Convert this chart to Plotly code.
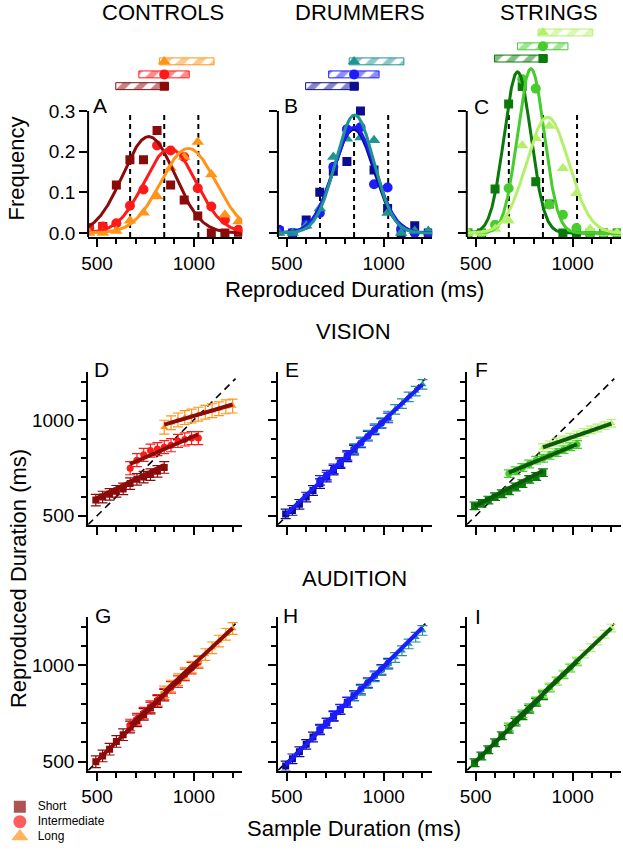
import numpy as np
import plotly.graph_objects as go

W, H = 623, 853
FONT = "Liberation Sans, Arial, Helvetica, sans-serif"

# ---------------- data ----------------
group_titles = ["CONTROLS", "DRUMMERS", "STRINGS"]
range_labels = ["Short", "Intermediate", "Long"]
panel_letters = ["A", "B", "C", "D", "E", "F", "G", "H", "I"]
row_titles = ["VISION", "AUDITION"]

colors_controls = ["#8b0a0a", "#ff1a1a", "#ff9418"]
colors_drummers = ["#0d0d8f", "#1c1cff", "#1f9490"]
colors_strings = ["#0a7a0a", "#46cc2c", "#b4f06c"]
fitline_colors = ["#8b0a0a", "#1c1cff", "#0a5c0a"]
symbols = ["square", "circle", "triangle-up"]

# reproduced-duration histograms (frequency per bin)
hist_bins = [460, 530, 600, 670, 740, 810, 880, 950, 1020, 1090, 1160, 1230]
freq_controls_short = [0.012, 0.016, 0.118, 0.180, 0.180, 0.252, 0.118, 0.081, 0.042, 0.000, 0.000, 0.002]
freq_controls_inter = [0.012, 0.016, 0.024, 0.067, 0.107, 0.215, 0.203, 0.187, 0.110, 0.065, 0.032, 0.008]
freq_controls_long = [0.000, 0.000, 0.005, 0.030, 0.050, 0.090, 0.160, 0.187, 0.224, 0.144, 0.045, 0.028]
freq_drummers_short = [0.005, 0.000, 0.032, 0.100, 0.152, 0.176, 0.300, 0.155, 0.060, 0.000, 0.018, 0.000]
freq_drummers_inter = [0.008, 0.000, 0.020, 0.049, 0.163, 0.255, 0.260, 0.120, 0.112, 0.010, 0.000, 0.000]
freq_drummers_long = [0.000, 0.000, 0.018, 0.060, 0.187, 0.232, 0.235, 0.228, 0.049, 0.000, 0.005, 0.005]
freq_strings_short = [0.000, 0.000, 0.108, 0.317, 0.360, 0.126, 0.071, 0.000, 0.000, 0.000, 0.000, 0.000]
freq_strings_inter = [0.000, 0.000, 0.020, 0.110, 0.378, 0.355, 0.070, 0.045, 0.012, 0.000, 0.000, 0.000]
freq_strings_long = [0.000, 0.000, 0.010, 0.030, 0.215, 0.233, 0.263, 0.159, 0.098, 0.010, 0.000, 0.000]

# Gaussian fit parameters (mean ms, sd ms, peak frequency) for short / intermediate / long
fit_mu_controls = [767, 877, 971]
fit_sd_controls = [134, 134, 141]
fit_amp_controls = [0.237, 0.207, 0.208]
fit_mu_drummers = [845, 848, 850]
fit_sd_drummers = [105, 107, 99]
fit_amp_drummers = [0.255, 0.260, 0.290]
fit_mu_strings = [716, 785, 871]
fit_sd_strings = [69, 69, 109]
fit_amp_strings = [0.396, 0.404, 0.285]

range_means = [671, 847, 1023]
bar_lo = [597, 716, 822]
bar_hi = [869, 976, 1104]
bar_marker_x = 847
bar_y_controls = [0.361, 0.390, 0.422]
bar_y_drummers = [0.361, 0.390, 0.422]
bar_y_strings = [0.429, 0.459, 0.493]

# sample durations (ms)
sample_short = [494, 529, 565, 600, 635, 671, 706, 741, 776, 812, 847]
sample_inter = [671, 706, 741, 776, 812, 847, 882, 918, 953, 988, 1023]
sample_long = [847, 882, 918, 953, 988, 1023, 1059, 1094, 1129, 1165, 1200]
fit_x_short = [494, 847]
fit_x_inter = [671, 1023]
fit_x_long = [847, 1200]
identity_span = [454, 1215]

# VISION reproduced durations
vis_controls_short = [582, 598, 612, 628, 640, 668, 690, 702, 715, 732, 752]
vis_controls_inter = [748, 790, 818, 840, 848, 858, 868, 890, 898, 905, 905]
vis_controls_long = [962, 985, 1000, 1012, 1020, 1030, 1040, 1048, 1058, 1068, 1072]
vis_drummers_short = [510, 528, 560, 598, 632, 668, 702, 738, 772, 808, 842]
vis_drummers_inter = [685, 712, 745, 778, 815, 848, 880, 915, 948, 982, 1010]
vis_drummers_long = [850, 885, 920, 955, 985, 1020, 1055, 1085, 1120, 1150, 1185]
vis_strings_short = [552, 565, 582, 600, 615, 630, 650, 668, 690, 705, 725]
vis_strings_inter = [720, 735, 752, 770, 790, 800, 815, 830, 845, 860, 872]
vis_strings_long = [855, 870, 885, 895, 910, 922, 935, 948, 958, 970, 982]
vis_fit_controls = [[590, 765], [770, 925], [975, 1080]]
vis_fit_drummers = [[505, 845], [680, 1012], [852, 1185]]
vis_fit_strings = [[550, 735], [725, 873], [857, 980]]
vis_err_controls = [30, 34, 36]
vis_err_drummers = [25, 25, 25]
vis_err_strings = [20, 20, 20]

# AUDITION reproduced durations
aud_controls_short = [500, 530, 565, 605, 640, 680, 712, 745, 778, 812, 845]
aud_controls_inter = [690, 720, 752, 785, 818, 850, 885, 915, 950, 985, 1015]
aud_controls_long = [862, 892, 925, 958, 990, 1020, 1055, 1090, 1125, 1160, 1190]
aud_drummers_short = [478, 515, 552, 590, 628, 665, 700, 735, 770, 808, 842]
aud_drummers_inter = [668, 700, 738, 772, 808, 842, 876, 910, 945, 978, 1010]
aud_drummers_long = [840, 870, 905, 940, 972, 1005, 1040, 1075, 1110, 1145, 1180]
aud_strings_short = [495, 530, 562, 598, 635, 668, 705, 738, 772, 808, 842]
aud_strings_inter = [680, 712, 748, 780, 815, 848, 882, 918, 950, 985, 1018]
aud_strings_long = [855, 888, 920, 955, 990, 1022, 1058, 1090, 1125, 1160, 1192]
aud_fit_controls = [[498, 845], [690, 1010], [862, 1192]]
aud_fit_drummers = [[482, 842], [670, 1012], [842, 1195]]
aud_fit_strings = [[495, 842], [682, 1018], [855, 1192]]
aud_err_controls = [30, 30, 30]
aud_err_drummers = [25, 25, 25]
aud_err_strings = [20, 20, 20]

freq_tick_vals = [0.0, 0.1, 0.2, 0.3]
freq_tick_text = ["0.0", "0.1", "0.2", "0.3"]
ms_major = [500, 1000]
ms_minor = [600, 700, 800, 900, 1100, 1200]

# ---------------- layout geometry (pixels) ----------------
col_px = [(82, 238), (274, 430), (465, 621)]
row_px = [(20, 239), (375, 529), (622, 777)]
XR = [454, 1250]
ROW1_YR = [-0.01, -0.01 + (239 - 20) / 410.0]


def fx(p):
    return p / W


def fy(p):
    return 1 - p / H


def axnames(n):
    return ("x" if n == 1 else f"x{n}"), ("y" if n == 1 else f"y{n}")


def laykeys(n):
    return ("xaxis" if n == 1 else f"xaxis{n}"), ("yaxis" if n == 1 else f"yaxis{n}")


fig = go.Figure()
shapes = []
annotations = []
layout_axes = {}

tickfont = dict(family=FONT, size=19, color="black")
minor_cfg = dict(tickvals=ms_minor, ticklen=5, tickwidth=2, tickcolor="black", ticks="outside")

group_colors = [colors_controls, colors_drummers, colors_strings]

for r in range(3):
    for c in range(3):
        n = r * 3 + c + 1
        xk, yk = laykeys(n)
        xa = dict(domain=[fx(col_px[c][0]), fx(col_px[c][1])], range=XR, showline=True,
                  linecolor="black", linewidth=2, ticks="outside", tickvals=ms_major,
                  ticklen=8, tickwidth=2, tickcolor="black", minor=minor_cfg,
                  showgrid=False, zeroline=False, showticklabels=(r != 1),
                  tickfont=tickfont, anchor=axnames(n)[1], fixedrange=True)
        if r == 0:
            ya = dict(domain=[fy(row_px[r][1]), fy(row_px[r][0])], range=ROW1_YR,
                      showline=False, ticks="outside", tickvals=freq_tick_vals,
                      ticktext=freq_tick_text, ticklen=8, tickwidth=2, tickcolor="black",
                      showgrid=False, zeroline=False, showticklabels=(c == 0),
                      tickfont=tickfont, anchor=axnames(n)[0], fixedrange=True)
            shapes.append(dict(type="line", xref=f"{axnames(n)[0]} domain", yref=axnames(n)[1],
                               x0=0, x1=0, y0=ROW1_YR[0], y1=freq_tick_vals[-1],
                               line=dict(color="black", width=2), layer="above"))
        else:
            ya = dict(domain=[fy(row_px[r][1]), fy(row_px[r][0])], range=XR, showline=True,
                      linecolor="black", linewidth=2, ticks="outside", tickvals=ms_major,
                      ticklen=8, tickwidth=2, tickcolor="black", minor=minor_cfg,
                      showgrid=False, zeroline=False, showticklabels=(c == 0),
                      tickfont=tickfont, anchor=axnames(n)[0], fixedrange=True)
        layout_axes[xk] = xa
        layout_axes[yk] = ya

# ---------------- row 1: distributions ----------------
freqs = [[freq_controls_short, freq_controls_inter, freq_controls_long],
         [freq_drummers_short, freq_drummers_inter, freq_drummers_long],
         [freq_strings_short, freq_strings_inter, freq_strings_long]]
fits = [(fit_mu_controls, fit_sd_controls, fit_amp_controls),
        (fit_mu_drummers, fit_sd_drummers, fit_amp_drummers),
        (fit_mu_strings, fit_sd_strings, fit_amp_strings)]
bar_ys = [bar_y_controls, bar_y_drummers, bar_y_strings]
xgrid = np.linspace(XR[0], XR[1], 400)

for c in range(3):
    xa, ya = axnames(c + 1)
    cols = group_colors[c]
    # hatched range bars
    for k in range(3):
        fig.add_trace(go.Bar(
            orientation="h", y=[bar_ys[c][k]], x=[bar_hi[k] - bar_lo[k]], base=[bar_lo[k]],
            width=0.017, xaxis=xa, yaxis=ya, showlegend=False, hoverinfo="skip",
            marker=dict(color="white", line=dict(color=cols[k], width=1),
                        pattern=dict(shape="/", fgcolor=cols[k], bgcolor="white",
                                     size=12, solidity=0.5))))
        fig.add_trace(go.Scatter(
            x=[bar_marker_x], y=[bar_ys[c][k]], mode="markers", xaxis=xa, yaxis=ya,
            showlegend=False, hoverinfo="skip",
            marker=dict(symbol=symbols[k], color=cols[k], size=[9, 10, 11][k], line=dict(width=0))))
    # dashed range means
    for m in range_means:
        fig.add_trace(go.Scatter(
            x=[m, m], y=[ROW1_YR[0], freq_tick_vals[-1]], mode="lines", xaxis=xa, yaxis=ya,
            showlegend=False, hoverinfo="skip",
            line=dict(color="black", width=2, dash="5px,4px")))
    # points
    for k in range(3):
        fig.add_trace(go.Scatter(
            x=hist_bins, y=freqs[c][k], mode="markers", xaxis=xa, yaxis=ya, showlegend=False,
            marker=dict(symbol=symbols[k], color=cols[k], size=[9, 10, 11][k], line=dict(width=0))))
    # fitted curves
    mus, sds, amps = fits[c]
    for k in range(3):
        yfit = amps[k] * np.exp(-(xgrid - mus[k]) ** 2 / (2 * sds[k] ** 2))
        fig.add_trace(go.Scatter(
            x=xgrid, y=yfit, mode="lines", xaxis=xa, yaxis=ya, showlegend=False,
            hoverinfo="skip", line=dict(color=cols[k], width=3)))

# ---------------- rows 2/3: reproduction ----------------
samples = [sample_short, sample_inter, sample_long]
fit_xs = [fit_x_short, fit_x_inter, fit_x_long]
vis_data = [[vis_controls_short, vis_controls_inter, vis_controls_long],
            [vis_drummers_short, vis_drummers_inter, vis_drummers_long],
            [vis_strings_short, vis_strings_inter, vis_strings_long]]
aud_data = [[aud_controls_short, aud_controls_inter, aud_controls_long],
            [aud_drummers_short, aud_drummers_inter, aud_drummers_long],
            [aud_strings_short, aud_strings_inter, aud_strings_long]]
vis_fits = [vis_fit_controls, vis_fit_drummers, vis_fit_strings]
aud_fits = [aud_fit_controls, aud_fit_drummers, aud_fit_strings]
vis_errs = [vis_err_controls, vis_err_drummers, vis_err_strings]
aud_errs = [aud_err_controls, aud_err_drummers, aud_err_strings]

for r, (data, fitv, errs) in enumerate([(vis_data, vis_fits, vis_errs), (aud_data, aud_fits, aud_errs)]):
    for c in range(3):
        n = (r + 1) * 3 + c + 1
        xa, ya = axnames(n)
        cols = group_colors[c]
        fig.add_trace(go.Scatter(
            x=identity_span, y=identity_span, mode="lines", xaxis=xa, yaxis=ya,
            showlegend=False, hoverinfo="skip",
            line=dict(color="black", width=1.6, dash="7px,5px")))
        for k in range(3):
            fig.add_trace(go.Scatter(
                x=samples[k], y=data[c][k], mode="markers", xaxis=xa, yaxis=ya, showlegend=False,
                marker=dict(symbol=symbols[k], color=cols[k], size=7, line=dict(width=0)),
                error_y=dict(type="constant", value=errs[c][k], color=cols[k],
                             thickness=1.2, width=5)))
        for k in range(3):
            fig.add_trace(go.Scatter(
                x=fit_xs[k], y=fitv[c][k], mode="lines", xaxis=xa, yaxis=ya, showlegend=False,
                hoverinfo="skip", line=dict(color=fitline_colors[c], width=4)))

# ---------------- legend (own small axes) ----------------
leg_x, leg_y = axnames(10)
lxk, lyk = laykeys(10)
layout_axes[lxk] = dict(domain=[0, fx(110)], range=[0, 110], visible=False, fixedrange=True,
                        anchor=leg_y)
layout_axes[lyk] = dict(domain=[fy(851), fy(806)], range=[-0.5, 2.5], visible=False,
                        fixedrange=True, anchor=leg_x)
legend_rows = [2, 1, 0]
fig.add_trace(go.Scatter(
    x=[13, 13, 13], y=legend_rows, mode="markers", xaxis=leg_x, yaxis=leg_y, showlegend=False,
    hoverinfo="skip",
    marker=dict(symbol=symbols, color=colors_controls, size=[12, 13, 15], line=dict(width=0))))
fig.add_trace(go.Scatter(
    x=[31, 31, 31], y=legend_rows, mode="text", text=range_labels, textposition="middle right",
    xaxis=leg_x, yaxis=leg_y, showlegend=False, hoverinfo="skip",
    textfont=dict(family=FONT, size=12, color="black")))

# ---------------- annotations ----------------
def ann(text, x, y, size=22, angle=0):
    annotations.append(dict(text=text, x=fx(x), y=fy(y), xref="paper", yref="paper",
                            showarrow=False, xanchor="center", yanchor="middle",
                            textangle=angle, font=dict(family=FONT, size=size, color="black")))

for t, xc in zip(group_titles, [158, 357, 548]):
    ann(t, xc, 13)
ann("Frequency", 10, 170, angle=-90)
ann("Reproduced Duration (ms)", 351, 292)
ann(row_titles[0], 350, 334)
ann(row_titles[1], 351, 583)
ann("Reproduced Duration (ms)", 11, 583, angle=-90)
ann("Sample Duration (ms)", 351, 835)
letter_pos = [(94, 106), (287, 106), (480, 107), (96, 373), (288, 373), (480, 373),
              (97, 621), (287, 621), (476, 622)]
for L, (lx, ly) in zip(panel_letters, letter_pos):
    ann(L, lx, ly, size=21)

fig.update_layout(
    width=W, height=H, margin=dict(l=0, r=0, t=0, b=0),
    paper_bgcolor="white", plot_bgcolor="rgba(0,0,0,0)",
    barmode="overlay", showlegend=False,
    font=dict(family=FONT, color="black"),
    shapes=shapes, annotations=annotations, **layout_axes)

fig.write_html("out.html", config={"displayModeBar": False, "staticPlot": True},
               post_script="document.body.style.margin='0';document.body.style.overflow='hidden';")
